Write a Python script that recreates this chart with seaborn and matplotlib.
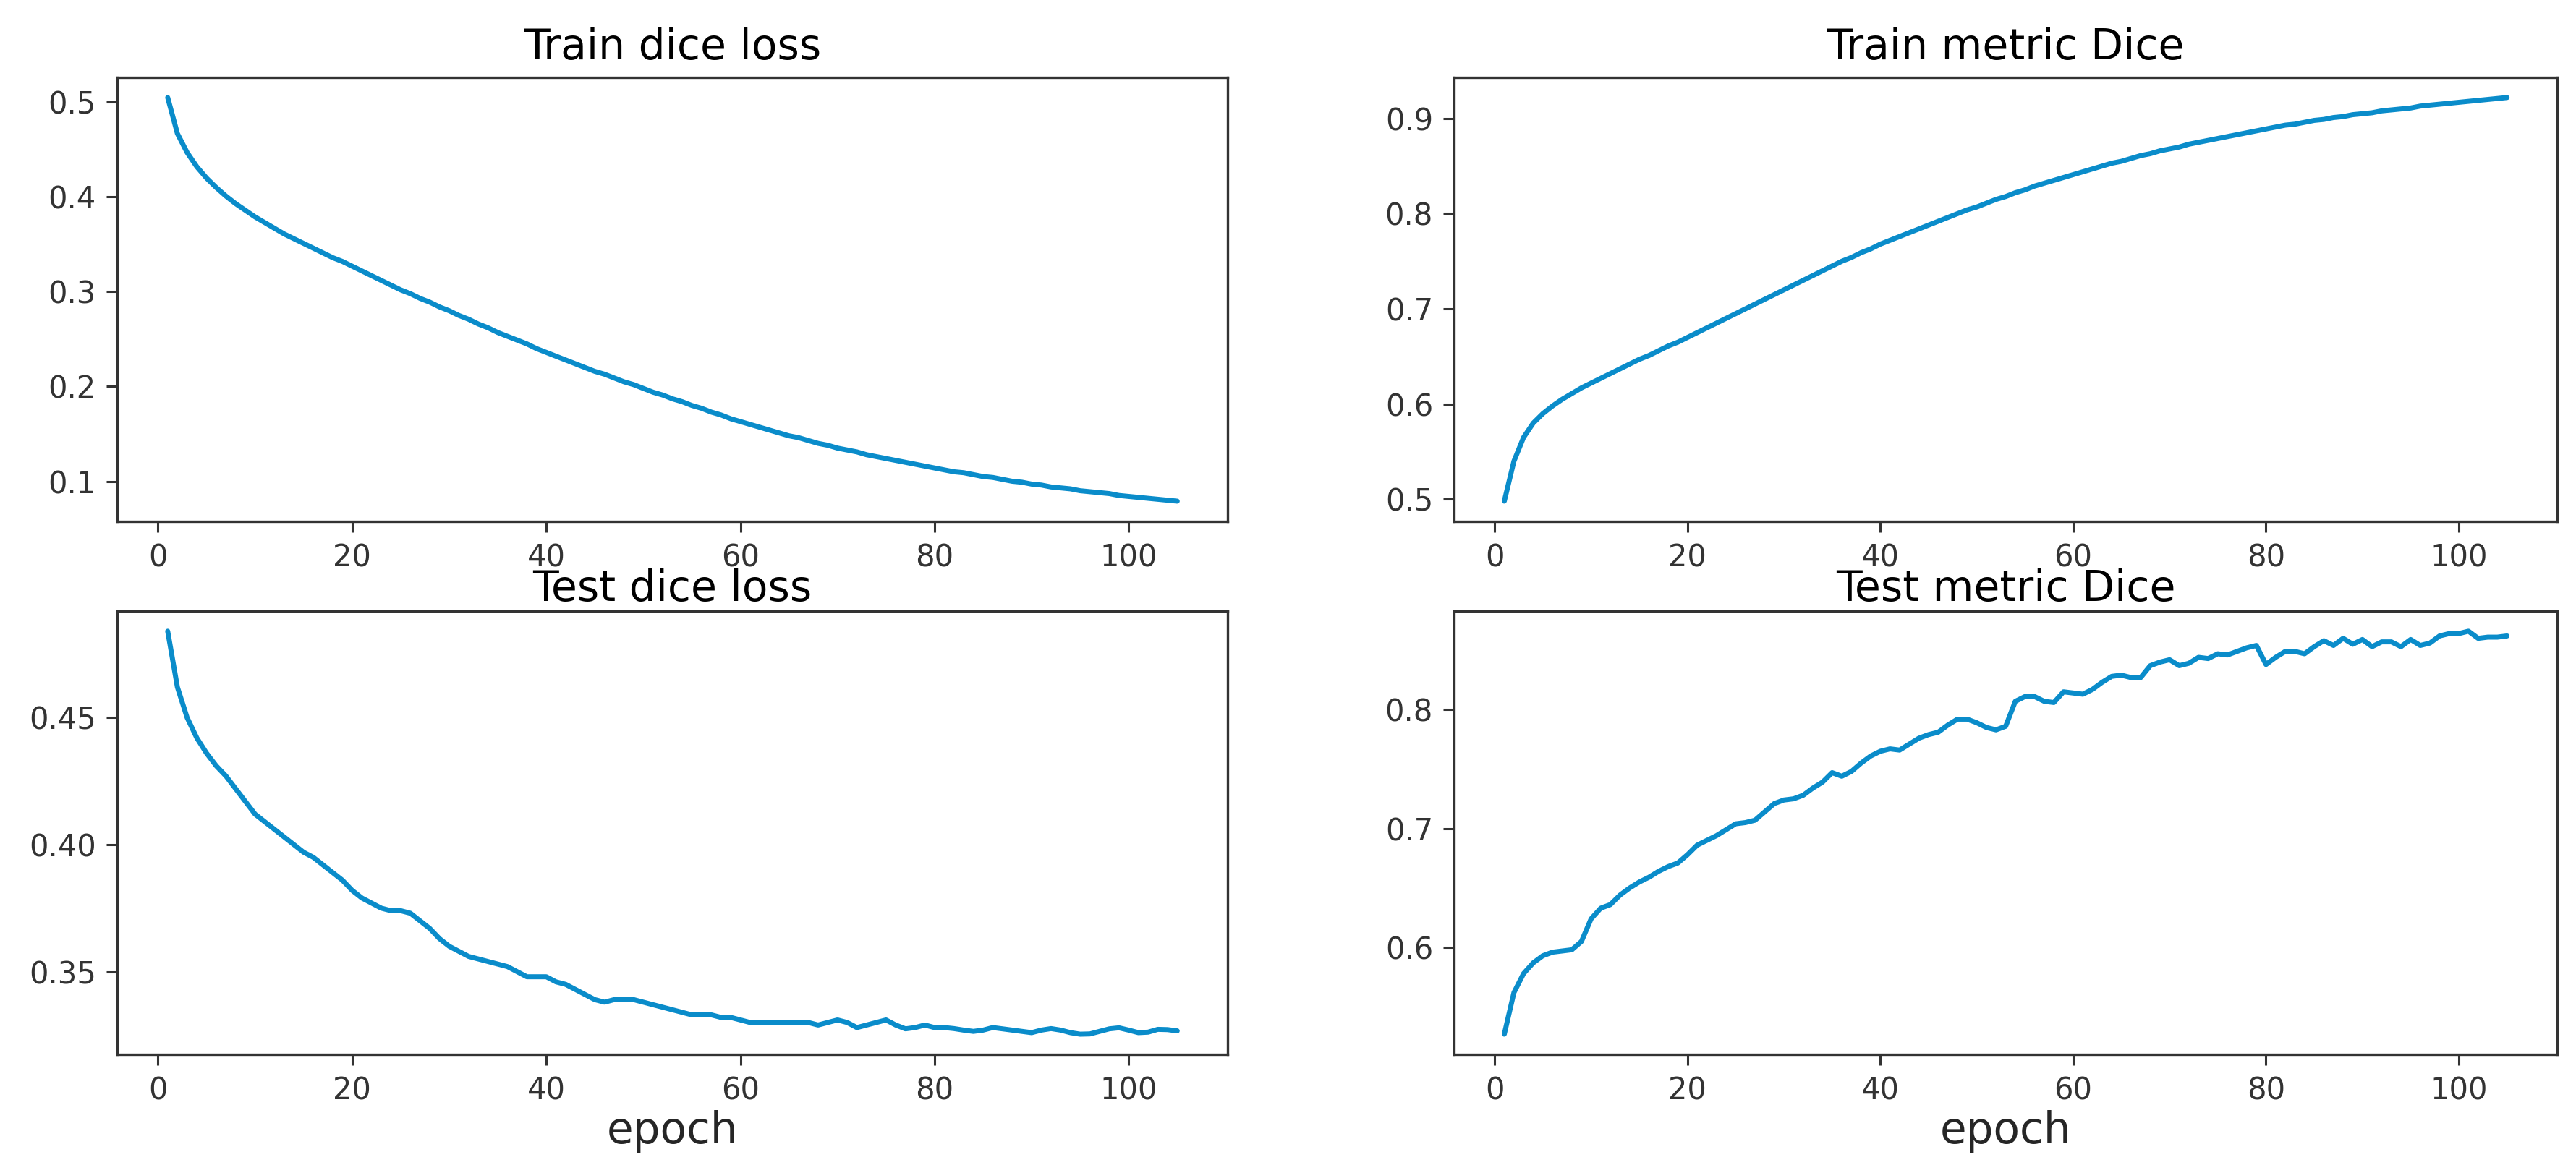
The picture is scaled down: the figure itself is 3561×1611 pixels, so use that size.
import numpy as np
import pandas as pd
import seaborn as sns
import matplotlib
matplotlib.use("Agg")
import matplotlib.pyplot as plt

# values, one per epoch (1..105)
epochs = list(range(1, 106))

train_loss = [
    0.505, 0.467, 0.447, 0.432, 0.420, 0.410, 0.401, 0.393, 0.386, 0.379,
    0.373, 0.367, 0.361, 0.356, 0.351, 0.346, 0.341, 0.336, 0.332, 0.327,
    0.322, 0.317, 0.312, 0.307, 0.302, 0.298, 0.293, 0.289, 0.284, 0.280,
    0.275, 0.271, 0.266, 0.262, 0.257, 0.253, 0.249, 0.245, 0.240, 0.236,
    0.232, 0.228, 0.224, 0.220, 0.216, 0.213, 0.209, 0.205, 0.202, 0.198,
    0.194, 0.191, 0.187, 0.184, 0.180, 0.177, 0.173, 0.170, 0.166, 0.163,
    0.160, 0.157, 0.154, 0.151, 0.148, 0.146, 0.143, 0.140, 0.138, 0.135,
    0.133, 0.131, 0.128, 0.126, 0.124, 0.122, 0.120, 0.118, 0.116, 0.114,
    0.112, 0.110, 0.109, 0.107, 0.105, 0.104, 0.102, 0.100, 0.099, 0.097,
    0.096, 0.094, 0.093, 0.092, 0.090, 0.089, 0.088, 0.087, 0.085, 0.084,
    0.083, 0.082, 0.081, 0.080, 0.079,
]

train_dice = [
    0.498, 0.540, 0.565, 0.580, 0.590, 0.598, 0.605, 0.611, 0.617, 0.622,
    0.627, 0.632, 0.637, 0.642, 0.647, 0.651, 0.656, 0.661, 0.665, 0.670,
    0.675, 0.680, 0.685, 0.690, 0.695, 0.700, 0.705, 0.710, 0.715, 0.720,
    0.725, 0.730, 0.735, 0.740, 0.745, 0.750, 0.754, 0.759, 0.763, 0.768,
    0.772, 0.776, 0.780, 0.784, 0.788, 0.792, 0.796, 0.800, 0.804, 0.807,
    0.811, 0.815, 0.818, 0.822, 0.825, 0.829, 0.832, 0.835, 0.838, 0.841,
    0.844, 0.847, 0.850, 0.853, 0.855, 0.858, 0.861, 0.863, 0.866, 0.868,
    0.870, 0.873, 0.875, 0.877, 0.879, 0.881, 0.883, 0.885, 0.887, 0.889,
    0.891, 0.893, 0.894, 0.896, 0.898, 0.899, 0.901, 0.902, 0.904, 0.905,
    0.906, 0.908, 0.909, 0.910, 0.911, 0.913, 0.914, 0.915, 0.916, 0.917,
    0.918, 0.919, 0.920, 0.921, 0.922,
]

test_loss = [
    0.484, 0.462, 0.450, 0.442, 0.436, 0.431, 0.427, 0.422, 0.417, 0.412,
    0.409, 0.406, 0.403, 0.400, 0.397, 0.395, 0.392, 0.389, 0.386, 0.382,
    0.379, 0.377, 0.375, 0.374, 0.374, 0.373, 0.370, 0.367, 0.363, 0.360,
    0.358, 0.356, 0.355, 0.354, 0.353, 0.352, 0.350, 0.348, 0.348, 0.348,
    0.346, 0.345, 0.343, 0.341, 0.339, 0.338, 0.339, 0.339, 0.339, 0.338,
    0.337, 0.336, 0.335, 0.334, 0.333, 0.333, 0.333, 0.332, 0.332, 0.331,
    0.330, 0.330, 0.330, 0.330, 0.330, 0.330, 0.330, 0.329, 0.330, 0.331,
    0.330, 0.328, 0.329, 0.330, 0.331, 0.329, 0.3275, 0.328, 0.329, 0.328,
    0.328, 0.3276, 0.327, 0.3265, 0.327, 0.328, 0.3275, 0.327, 0.3265, 0.326,
    0.327, 0.3276, 0.327, 0.326, 0.3254, 0.3255, 0.3265, 0.3275, 0.3279, 0.327,
    0.326, 0.3262, 0.3273, 0.3272, 0.3267,
]

test_dice = [
    0.527, 0.562, 0.578, 0.587, 0.593, 0.596, 0.597, 0.598, 0.605, 0.624,
    0.633, 0.636, 0.644, 0.650, 0.655, 0.659, 0.664, 0.668, 0.671, 0.678,
    0.686, 0.690, 0.694, 0.699, 0.704, 0.705, 0.707, 0.714, 0.721, 0.724,
    0.725, 0.728, 0.734, 0.739, 0.747, 0.744, 0.748, 0.755, 0.761, 0.765,
    0.767, 0.766, 0.771, 0.776, 0.779, 0.781, 0.787, 0.792, 0.792, 0.789,
    0.785, 0.783, 0.786, 0.807, 0.811, 0.811, 0.807, 0.806, 0.815, 0.814,
    0.813, 0.817, 0.823, 0.828, 0.829, 0.827, 0.827, 0.837, 0.840, 0.842,
    0.837, 0.839, 0.844, 0.843, 0.847, 0.846, 0.849, 0.852, 0.854, 0.838,
    0.844, 0.849, 0.849, 0.847, 0.853, 0.858, 0.854, 0.860, 0.855, 0.859,
    0.853, 0.857, 0.857, 0.853, 0.859, 0.854, 0.856, 0.862, 0.864, 0.864,
    0.866, 0.860, 0.861, 0.861, 0.862,
]

titles = ["Train dice loss", "Train metric Dice", "Test dice loss", "Test metric Dice"]
series = [train_loss, train_dice, test_loss, test_dice]
y_ticks = [
    [0.1, 0.2, 0.3, 0.4, 0.5],
    [0.5, 0.6, 0.7, 0.8, 0.9],
    [0.35, 0.40, 0.45],
    [0.6, 0.7, 0.8],
]
y_fmt = ["{:.1f}", "{:.1f}", "{:.2f}", "{:.1f}"]
x_ticks = [0, 20, 40, 60, 80, 100]

sns.set_style("ticks")
plt.rcParams["font.family"] = ["DejaVu Sans"]

fig = plt.figure(figsize=(35.61, 16.11), dpi=100)
positions = [
    [0.0455, 0.5525, 0.4311, 0.3811],
    [0.5645, 0.5525, 0.4282, 0.3811],
    [0.0455, 0.0950, 0.4311, 0.3805],
    [0.5645, 0.0950, 0.4282, 0.3805],
]

line_color = "#0a8cca"

for i in range(4):
    ax = fig.add_axes(positions[i])
    df = pd.DataFrame({"epoch": epochs, "value": series[i]})
    sns.lineplot(data=df, x="epoch", y="value", ax=ax, color=line_color, linewidth=5)
    ax.set_xticks(x_ticks)
    ax.set_yticks(y_ticks[i])
    ax.set_yticklabels([y_fmt[i].format(t) for t in y_ticks[i]])
    ax.tick_params(axis="both", labelsize=30, length=11, width=2.2, pad=10,
                   color="#333333", labelcolor="#333333")
    for sp in ax.spines.values():
        sp.set_linewidth(2.4)
        sp.set_color("#333333")
    pad = 18 if i < 2 else 10
    ax.set_title(titles[i], fontsize=42, pad=pad, color="black")
    ax.set_ylabel("")
    if i >= 2:
        ax.set_xlabel("epoch", fontsize=43, labelpad=4)
    else:
        ax.set_xlabel("")

fig.savefig("out.png", dpi=100, facecolor="white")
